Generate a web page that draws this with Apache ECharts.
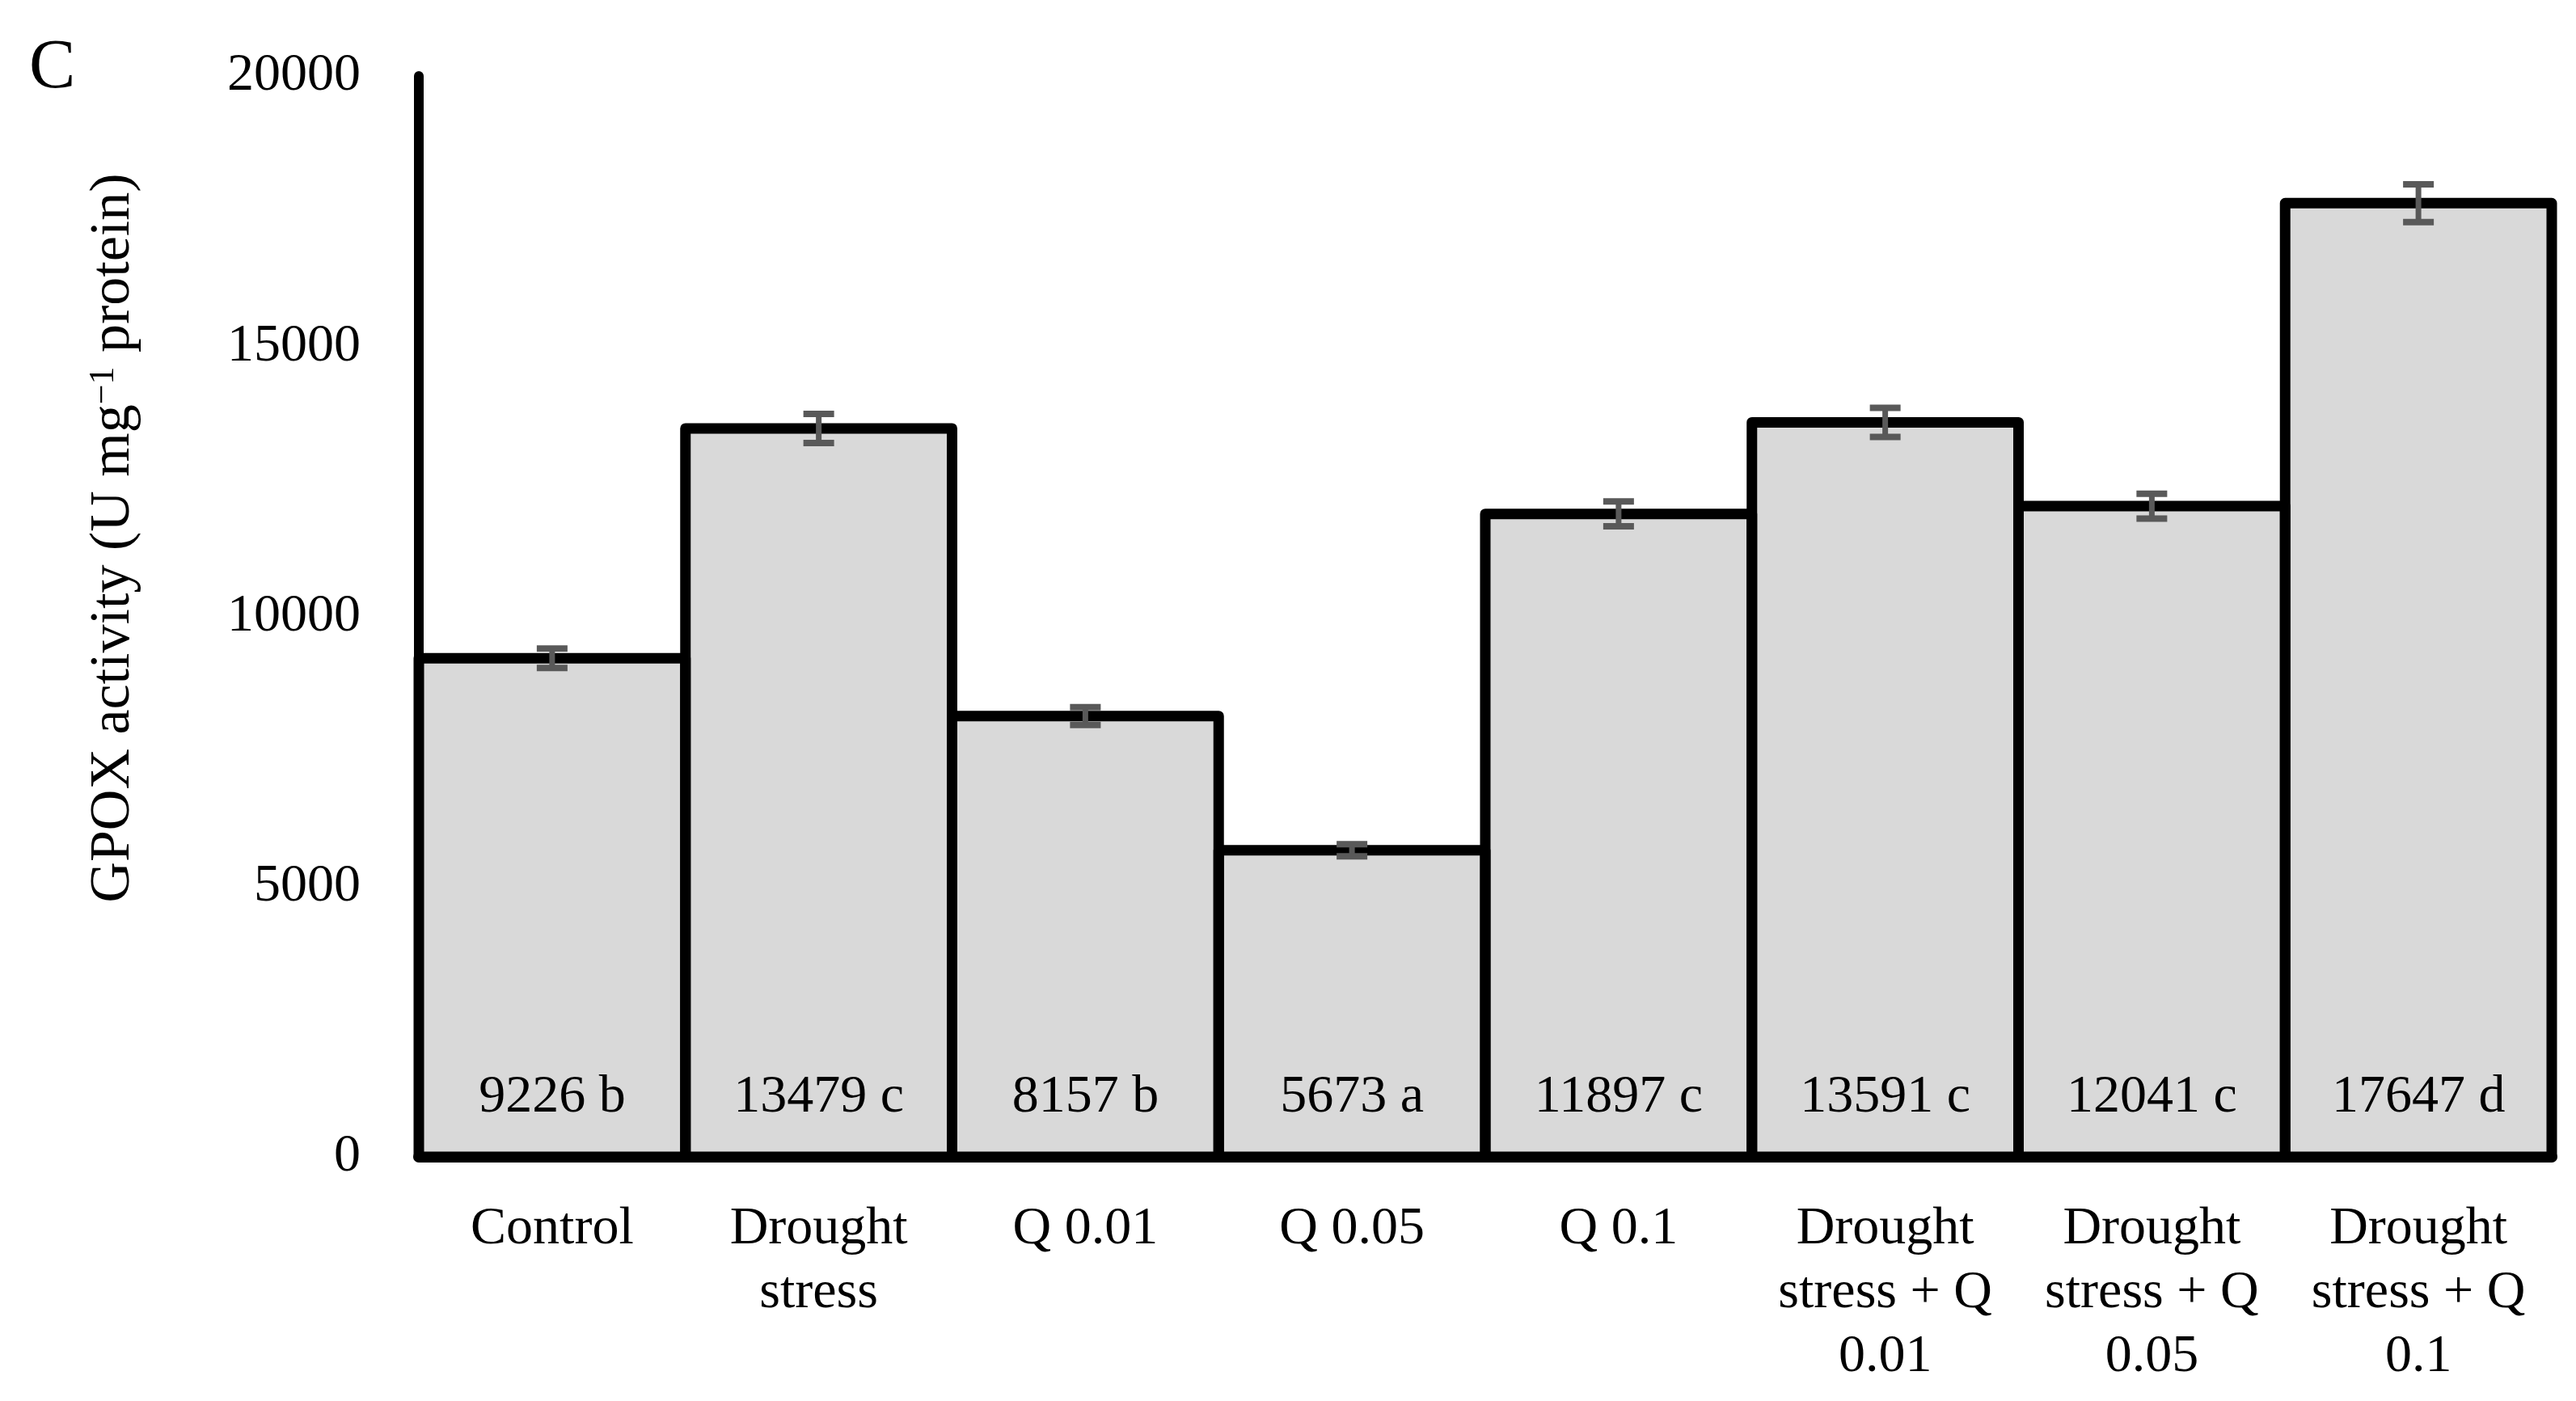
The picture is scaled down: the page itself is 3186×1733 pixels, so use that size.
<!DOCTYPE html>
<html>
<head>
<meta charset="utf-8">
<script src="https://cdn.jsdelivr.net/npm/echarts@6/dist/echarts.min.js"></script>
<style>
html,body{margin:0;padding:0;background:#fff;}
#chart{width:3186px;height:1733px;}
</style>
</head>
<body>
<div id="chart"></div>
<script>
var categories = ['Control', 'Drought\nstress', 'Q 0.01', 'Q 0.05', 'Q 0.1', 'Drought\nstress + Q\n0.01', 'Drought\nstress + Q\n0.05', 'Drought\nstress + Q\n0.1'];
var values = [9226, 13479, 8157, 5673, 11897, 13591, 12041, 17647];
var errors = [180, 270, 165, 112, 230, 270, 230, 350];
var letters = ['b', 'c', 'b', 'a', 'c', 'c', 'c', 'd'];
var yTicks = [0, 5000, 10000, 15000, 20000];

var FONT = 'Liberation Serif';
var chart = echarts.init(document.getElementById('chart'));

var errData = values.map(function (v, i) { return [i, v, errors[i]]; });
var outlineData = values.map(function (v, i) { return [i, v]; });

chart.setOption({
  backgroundColor: '#ffffff',
  animation: false,
  textStyle: { fontFamily: FONT, color: '#000' },
  graphic: [{
    type: 'text', left: 36, top: 42,
    style: { text: 'C', font: '86px "Liberation Serif"', fill: '#000' }
  }],
  grid: { left: 518, right: 30, top: 94, bottom: 302, containLabel: false, outerBoundsMode: 'none' },
  xAxis: {
    type: 'category',
    data: categories,
    axisLine: { show: true, lineStyle: { color: '#000', width: 14, cap: 'round' } },
    axisTick: { show: false },
    axisLabel: { interval: 0, fontFamily: FONT, fontSize: 66, lineHeight: 79, color: '#000', margin: 50 },
    splitLine: { show: false }
  },
  yAxis: {
    type: 'value',
    min: yTicks[0], max: yTicks[yTicks.length - 1], interval: 5000,
    axisLine: { show: true, lineStyle: { color: '#000', width: 12 } },
    axisTick: { show: false },
    splitLine: { show: false },
    axisLabel: { fontFamily: FONT, fontSize: 66, color: '#000', margin: 72, formatter: function (v) { return String(v); } },
    name: 'GPOX activity (U mg{sup|\u22121} protein)',
    nameLocation: 'middle',
    nameGap: 342,
    nameRotate: 90,
    nameTextStyle: {
      fontFamily: FONT, fontSize: 70, color: '#000', padding: [0, 0, 0, 194],
      rich: { sup: { fontFamily: FONT, fontSize: 44, verticalAlign: 'top', padding: [0, 0, 24, 0] } }
    }
  },
  series: [{
    type: 'bar',
    data: values,
    barCategoryGap: '0%',
    itemStyle: { color: '#d9d9d9', borderWidth: 0 },
    label: {
      show: true, position: 'insideBottom', distance: 40,
      fontFamily: FONT, fontSize: 66, color: '#000',
      formatter: function (p) { return values[p.dataIndex] + ' ' + letters[p.dataIndex]; }
    },
    z: 2
  }, {
    type: 'custom',
    data: outlineData,
    encode: { x: 0, y: 1 },
    z: 4,
    renderItem: function (params, api) {
      var i = api.value(0), v = api.value(1);
      var top = api.coord([i, v]);
      var base = api.coord([i, 0]);
      var w = api.size([1, 0])[0];
      return {
        type: 'rect',
        shape: { x: top[0] - w / 2, y: top[1], width: w, height: base[1] - top[1] },
        style: { fill: 'none', stroke: '#000', lineWidth: 13, lineJoin: 'round' }
      };
    }
  }, {
    type: 'custom',
    data: errData,
    encode: { x: 0, y: 1 },
    z: 5,
    renderItem: function (params, api) {
      var x = api.value(0), v = api.value(1), e = api.value(2);
      var hi = api.coord([x, v + e]);
      var lo = api.coord([x, v - e]);
      var hw = 19;
      var st = { stroke: '#595959', lineWidth: 7 };
      var sc = { stroke: '#595959', lineWidth: 8 };
      return {
        type: 'group',
        children: [
          { type: 'line', shape: { x1: hi[0], y1: hi[1], x2: lo[0], y2: lo[1] }, style: st },
          { type: 'line', shape: { x1: hi[0] - hw, y1: hi[1], x2: hi[0] + hw, y2: hi[1] }, style: sc },
          { type: 'line', shape: { x1: lo[0] - hw, y1: lo[1], x2: lo[0] + hw, y2: lo[1] }, style: sc }
        ]
      };
    }
  }]
});
</script>
</body>
</html>
